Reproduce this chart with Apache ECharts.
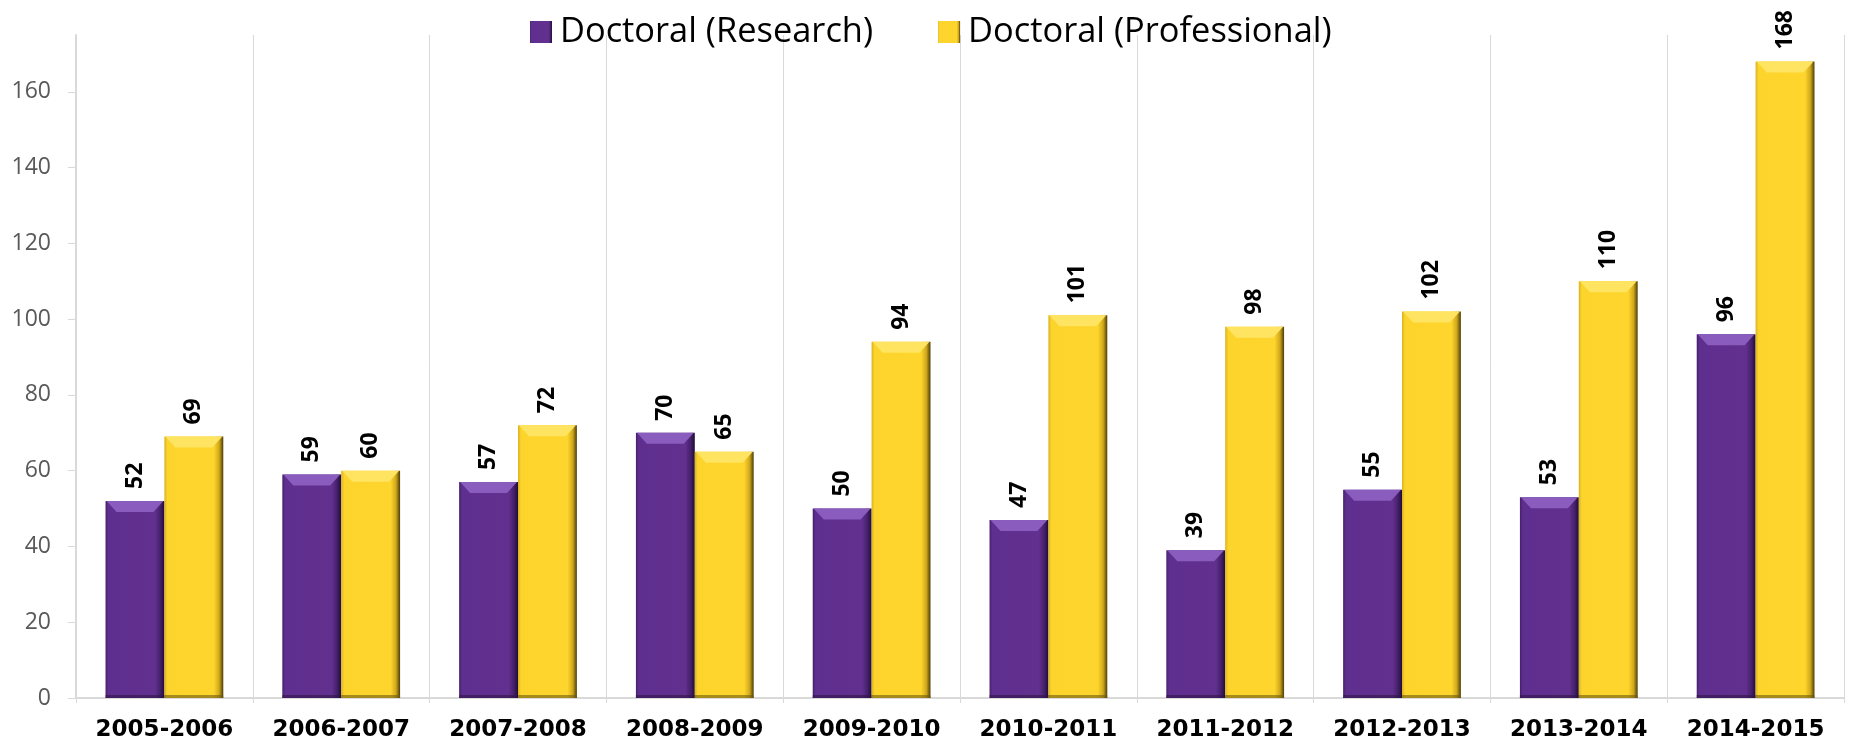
<!DOCTYPE html>
<html>
<head>
<meta charset="utf-8">
<script src="https://cdn.jsdelivr.net/npm/echarts@6/dist/echarts.min.js"></script>
<style>
html,body{margin:0;padding:0;background:#fff;}
#chart{width:1851px;height:746px;}
</style>
</head>
<body>
<div id="chart"></div>
<script>
const categories = ['2005-2006','2006-2007','2007-2008','2008-2009','2009-2010','2010-2011','2011-2012','2012-2013','2013-2014','2014-2015'];
const research = [52, 59, 57, 70, 50, 47, 39, 55, 53, 96];
const professional = [69, 60, 72, 65, 94, 101, 98, 102, 110, 168];
const yTicks = [0, 20, 40, 60, 80, 100, 120, 140, 160];
const seriesNames = ['Doctoral (Research)', 'Doctoral (Professional)'];

const CAT_GAP = 0.334;

function hGrad(stops) {
  return {type: 'linear', x: 0, y: 0, x2: 1, y2: 0, colorStops: stops.map(s => ({offset: s[0], color: s[1]}))};
}
const purpleFill = hGrad([[0,'#46206c'],[0.05,'#5f2f8f'],[0.84,'#62308f'],[0.93,'#45206b'],[1,'#1f0e35']]);
const yellowFill = hGrad([[0,'#d9b11f'],[0.05,'#fdd42c'],[0.84,'#fed52c'],[0.93,'#cfa81b'],[1,'#4d3c06']]);

function bevel(side, topColor) {
  return function (params, api) {
    const idx = api.value(0), v = api.value(1);
    const top = api.coord([idx, v]);
    const base = api.coord([idx, 0]);
    const catW = api.size([1, 0])[0];
    const barW = catW * (1 - CAT_GAP) / 2;
    const x0 = side === 0 ? top[0] - barW : top[0];
    const x1 = x0 + barW;
    const y0 = top[1];
    const h = base[1] - y0;
    const b = Math.min(11, h / 2);
    return {
      type: 'group',
      children: [
        {
          type: 'polygon',
          shape: {points: [[x0 + 1, y0], [x1 - 1, y0], [x1 - b, y0 + b], [x0 + b, y0 + b]]},
          style: {fill: topColor},
          silent: true
        },
        {
          type: 'rect',
          shape: {x: x0, y: base[1] - 3, width: barW, height: 3},
          style: {fill: side === 0 ? '#2f1648' : '#6d5a10', opacity: 0.6},
          silent: true
        }
      ]
    };
  };
}

const labelCfg = {
  show: true,
  position: 'top',
  rotate: 90,
  align: 'left',
  verticalAlign: 'middle',
  distance: 12,
  fontFamily: 'Open Sans',
  fontWeight: 'bold',
  fontSize: 23,
  color: '#000'
};

const chart = echarts.init(document.getElementById('chart'), null, {renderer: 'canvas'});
chart.setOption({
  animation: false,
  backgroundColor: '#ffffff',
  legend: {
    data: seriesNames,
    top: 10,
    left: 525,
    icon: 'rect',
    itemWidth: 22,
    itemHeight: 22,
    itemGap: 65,
    textStyle: {fontFamily: 'Open Sans', fontSize: 34.4, color: '#000', padding: [0, 0, 0, 3]}
  },
  grid: {left: 76, right: 7, top: 35, bottom: 48},
  xAxis: {
    type: 'category',
    data: categories,
    axisLine: {show: true, lineStyle: {color: '#d9d9d9', width: 2}},
    axisTick: {show: true, interval: 0, length: 5, lineStyle: {color: '#d9d9d9'}},
    splitLine: {show: true, interval: 0, lineStyle: {color: '#d9d9d9', width: 1}},
    axisLabel: {
      interval: 0,
      margin: 21,
      fontFamily: 'DejaVu Sans',
      fontWeight: 'bold',
      fontSize: 23,
      color: '#000'
    }
  },
  yAxis: {
    type: 'value',
    min: 0,
    max: 175,
    interval: 20,
    axisLine: {show: true, lineStyle: {color: '#d9d9d9', width: 2}},
    axisTick: {show: true, length: 8, lineStyle: {color: '#d9d9d9'}, customValues: yTicks},
    splitLine: {show: false},
    axisLabel: {
      customValues: yTicks,
      margin: 25,
      fontFamily: 'Open Sans',
      fontSize: 23,
      color: '#595959'
    }
  },
  series: [
    {
      name: seriesNames[0],
      type: 'bar',
      data: research,
      barGap: '0%',
      barCategoryGap: (CAT_GAP * 100) + '%',
      itemStyle: {color: purpleFill},
      label: labelCfg,
      z: 2
    },
    {
      name: seriesNames[1],
      type: 'bar',
      data: professional,
      barGap: '0%',
      barCategoryGap: (CAT_GAP * 100) + '%',
      itemStyle: {color: yellowFill},
      label: labelCfg,
      z: 2
    },
    {
      name: 'bevel-research',
      type: 'custom',
      renderItem: bevel(0, '#8a5cbd'),
      data: research.map((v, i) => [i, v]),
      encode: {x: 0, y: 1},
      silent: true,
      z: 3
    },
    {
      name: 'bevel-professional',
      type: 'custom',
      renderItem: bevel(1, '#ffe461'),
      data: professional.map((v, i) => [i, v]),
      encode: {x: 0, y: 1},
      silent: true,
      z: 3
    }
  ]
});
</script>
</body>
</html>
